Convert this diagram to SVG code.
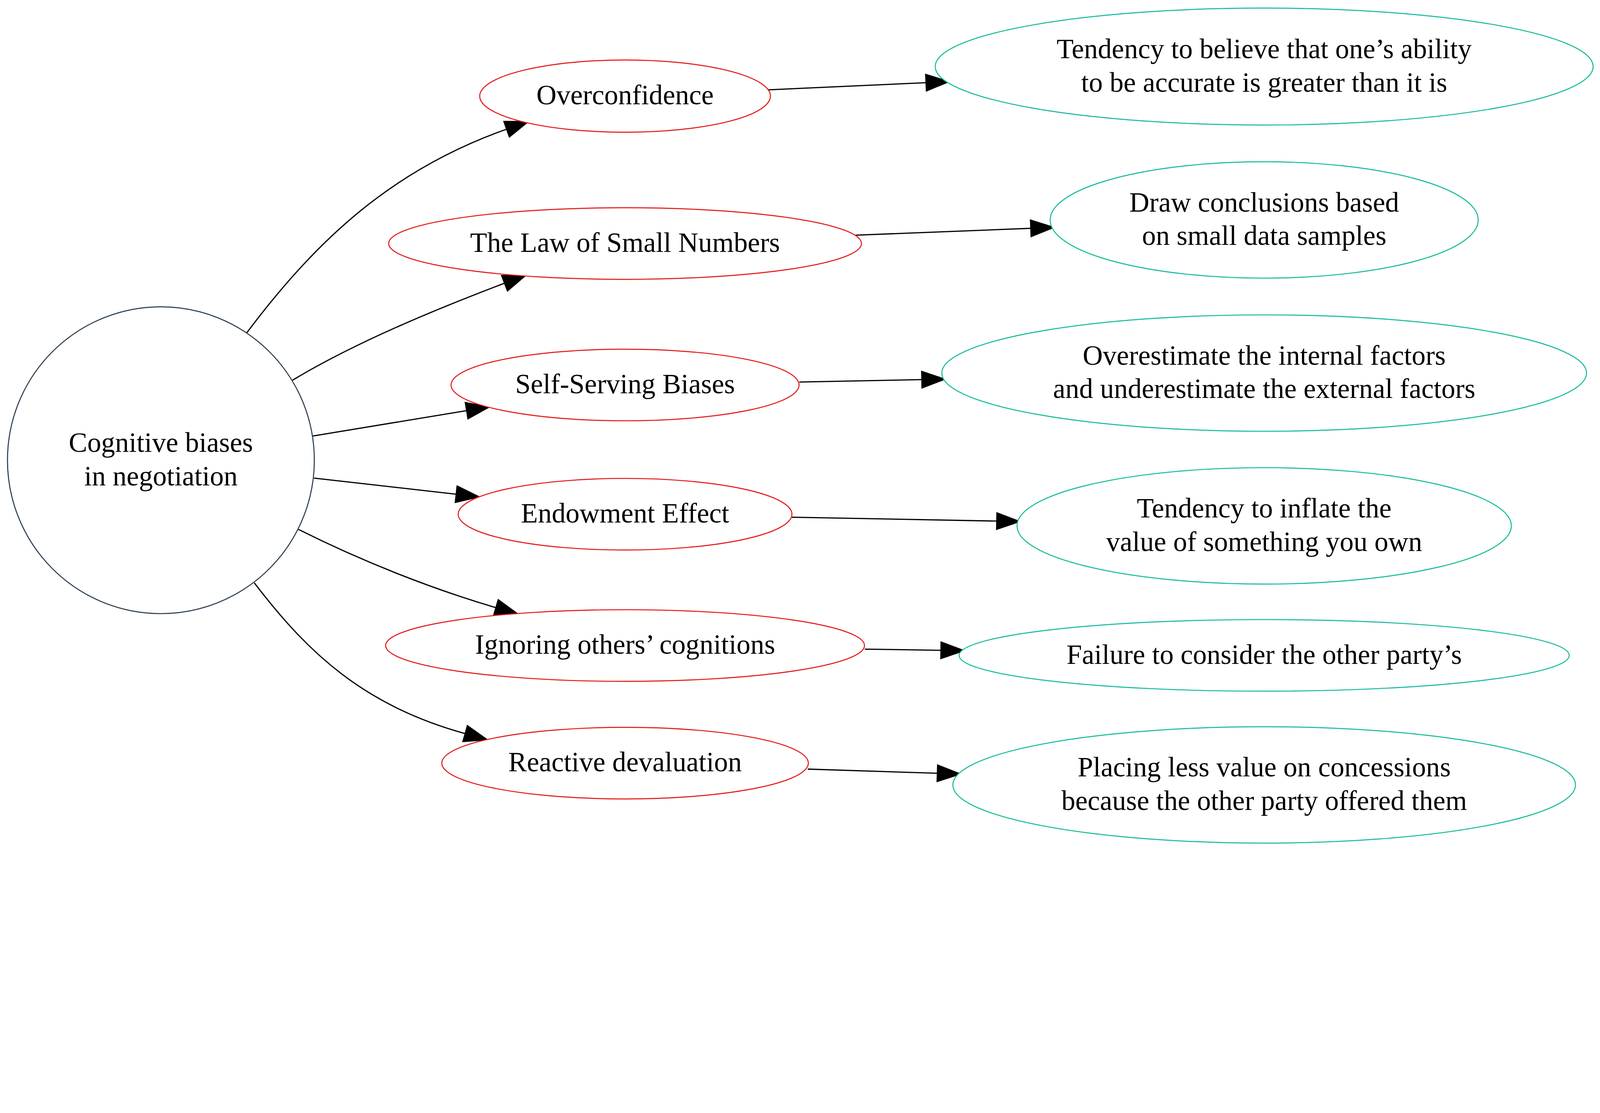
<svg xmlns="http://www.w3.org/2000/svg" width="5360" height="2850" viewBox="0 0 5360 2850" style="max-width:100%;height:auto">
<defs>
<style>
text{font-family:"Liberation Serif","Times New Roman",serif;font-size:93px;fill:#000;text-anchor:middle}
.root{fill:#fff;stroke:#2c3e50;stroke-width:3.5}
.bias{fill:#fff;stroke:#e41a1c;stroke-width:3.5}
.desc{fill:#fff;stroke:#1abc9c;stroke-width:3.5}
.edge{fill:none;stroke:#000;stroke-width:4;marker-end:url(#arrow)}
</style>
<marker id="arrow" markerUnits="userSpaceOnUse" viewBox="-4 -4 86 64" markerWidth="86" markerHeight="64" refX="0" refY="28" orient="auto">
<path d="M0,0 L78,28 L0,56 Z" fill="#000" stroke="#000" stroke-width="3.5"/>
</marker>
</defs>
<rect width="5360" height="2850" fill="#fff"/>
<g id="connectors">
<path class="edge" d="M826,1116 C1066,796 1320,566 1697,433"/>
<path class="edge" d="M980,1274 C1191,1147 1461,1036 1690,949"/>
<path class="edge" d="M1048,1461 L1563,1376"/>
<path class="edge" d="M1052,1602 L1528,1656"/>
<path class="edge" d="M1000,1774 C1205,1877 1440,1971 1661,2036"/>
<path class="edge" d="M852,1953 C1034,2192 1221,2364 1558,2458"/>
<path class="edge" d="M2574,301 L3102,277"/>
<path class="edge" d="M2866,788 L3453,765"/>
<path class="edge" d="M2678,1280 L3088,1272"/>
<path class="edge" d="M2653,1733 L3339,1746"/>
<path class="edge" d="M2897,2175 L3152,2179"/>
<path class="edge" d="M2706,2577 L3140,2591"/>
</g>
<g id="root">
<circle class="root" cx="539" cy="1542" r="514"/>
<text x="539" y="1514">Cognitive biases</text>
<text x="539" y="1626">in negotiation</text>
</g>
<g id="overconfidence">
<ellipse class="bias" cx="2094" cy="322" rx="487" ry="121"/>
<text x="2094" y="350">Overconfidence</text>
</g>
<g id="law_small_numbers">
<ellipse class="bias" cx="2094" cy="816" rx="792" ry="120"/>
<text x="2094" y="844">The Law of Small Numbers</text>
</g>
<g id="self_serving">
<ellipse class="bias" cx="2094" cy="1290" rx="583" ry="120"/>
<text x="2094" y="1318">Self-Serving Biases</text>
</g>
<g id="endowment">
<ellipse class="bias" cx="2094" cy="1723" rx="559" ry="120"/>
<text x="2094" y="1751">Endowment Effect</text>
</g>
<g id="ignoring">
<ellipse class="bias" cx="2094" cy="2163" rx="802" ry="120"/>
<text x="2094" y="2191">Ignoring others’ cognitions</text>
</g>
<g id="reactive">
<ellipse class="bias" cx="2094" cy="2557" rx="614" ry="120"/>
<text x="2094" y="2585">Reactive devaluation</text>
</g>
<g id="desc_overconfidence">
<ellipse class="desc" cx="4235" cy="223" rx="1102" ry="196"/>
<text x="4235" y="195">Tendency to believe that one’s ability</text>
<text x="4235" y="307">to be accurate is greater than it is</text>
</g>
<g id="desc_law">
<ellipse class="desc" cx="4235" cy="737" rx="717" ry="195"/>
<text x="4235" y="709">Draw conclusions based</text>
<text x="4235" y="821">on small data samples</text>
</g>
<g id="desc_self_serving">
<ellipse class="desc" cx="4235" cy="1250" rx="1080" ry="195"/>
<text x="4235" y="1222">Overestimate the internal factors</text>
<text x="4235" y="1334">and underestimate the external factors</text>
</g>
<g id="desc_endowment">
<ellipse class="desc" cx="4235" cy="1762" rx="828" ry="195"/>
<text x="4235" y="1734">Tendency to inflate the</text>
<text x="4235" y="1846">value of something you own</text>
</g>
<g id="desc_ignoring">
<ellipse class="desc" cx="4235" cy="2196" rx="1022" ry="120"/>
<text x="4235" y="2224">Failure to consider the other party’s</text>
</g>
<g id="desc_reactive">
<ellipse class="desc" cx="4235" cy="2630" rx="1043" ry="195"/>
<text x="4235" y="2602">Placing less value on concessions</text>
<text x="4235" y="2714">because the other party offered them</text>
</g>
</svg>
